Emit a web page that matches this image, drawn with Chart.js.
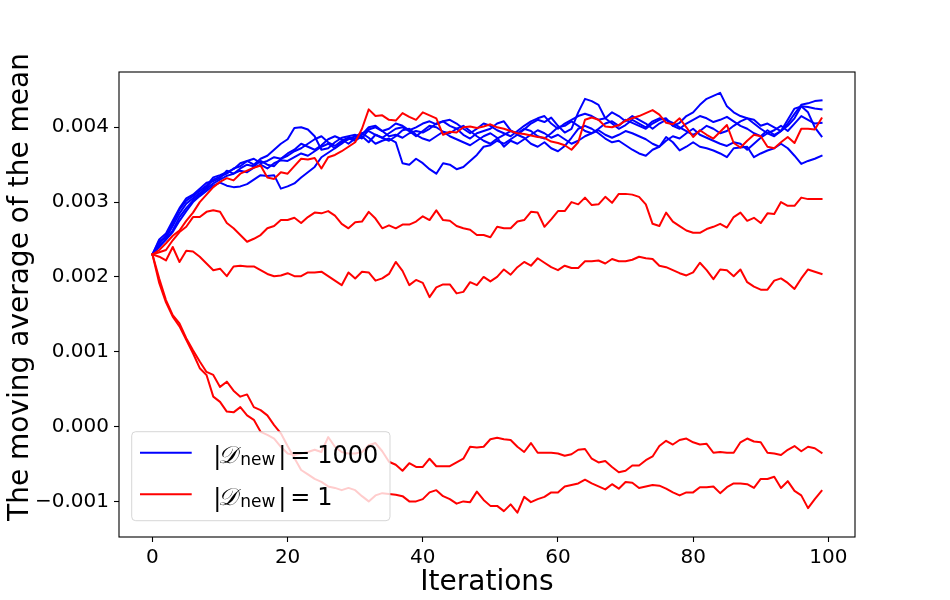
<!DOCTYPE html>
<html>
<head>
<meta charset="utf-8">
<script src="https://cdn.jsdelivr.net/npm/chart.js@4.4.1/dist/chart.umd.min.js"></script>
<style>
  html, body { margin: 0; padding: 0; background: #fff; }
  #chart { display: block; }
</style>
</head>
<body>
<canvas id="chart" width="950" height="600"></canvas>
<script>
// Values, in units of 1e-3
const UNIT = 1e-3;
const iterations = Array.from({ length: 100 }, (_, i) => i);

// |D_new| = 1000 runs
const blue1 = [
  2.30, 2.45, 2.55, 2.72, 2.90, 3.02, 3.08, 3.15, 3.22, 3.33,
  3.36, 3.40, 3.44, 3.52, 3.55, 3.50, 3.58, 3.62, 3.70, 3.78,
  3.84, 3.99, 4.00, 3.97, 3.88, 3.70, 3.72, 3.80, 3.86, 3.88,
  3.90, 3.85, 3.97, 4.00, 3.95, 3.88, 3.90, 3.86, 3.92, 3.95,
  3.93, 3.98, 4.05, 4.08, 4.02, 3.98, 3.90, 3.85, 3.92, 3.95,
  3.98, 4.05, 4.08, 3.96, 3.90, 3.97, 4.05, 4.10, 4.07, 4.13,
  4.02, 3.93, 3.98, 4.20, 4.38, 4.35, 4.30, 4.12, 4.05, 3.98,
  4.03, 4.10, 4.05, 4.00, 4.08, 4.12, 4.10, 4.02, 3.98, 4.05,
  4.10, 4.15, 4.12, 4.07, 4.10, 4.14, 4.08, 4.02, 3.98, 3.92,
  3.88, 3.96, 3.90, 3.95, 4.02, 4.12, 4.28, 4.27, 4.25, 4.24
];
const blue2 = [
  2.30, 2.42, 2.50, 2.60, 2.75, 2.88, 3.00, 3.08, 3.15, 3.22,
  3.26, 3.22, 3.20, 3.21, 3.24, 3.30, 3.36, 3.35, 3.36, 3.18,
  3.21, 3.25, 3.33, 3.40, 3.47, 3.60, 3.66, 3.72, 3.78, 3.85,
  3.82, 3.88, 3.80, 3.90, 3.86, 3.82, 3.88, 3.96, 3.98, 3.90,
  3.85, 3.82, 3.88, 3.94, 3.92, 3.98, 4.02, 3.95, 3.88, 3.82,
  3.78, 3.85, 3.90, 3.95, 3.92, 3.98, 3.95, 3.88, 3.85, 3.92,
  4.00, 4.02, 4.08, 4.02, 3.95, 3.92, 3.98, 4.05, 4.08, 4.02,
  4.10, 4.06, 4.02, 3.98, 4.05, 4.10, 4.12, 4.02, 4.06, 4.15,
  4.20, 4.30, 4.38, 4.42, 4.46, 4.28, 4.20, 4.15, 4.12, 4.10,
  4.02, 4.05, 4.00, 3.95, 4.10, 4.25, 4.28, 4.20, 4.00, 3.88
];
const blue3 = [
  2.30, 2.48, 2.52, 2.68, 2.85, 2.98, 3.05, 3.12, 3.20, 3.30,
  3.34, 3.38, 3.45, 3.48, 3.55, 3.58, 3.52, 3.55, 3.60, 3.58,
  3.62, 3.68, 3.72, 3.78, 3.84, 3.88, 3.80, 3.75, 3.82, 3.86,
  3.85, 3.92, 3.86, 3.78, 3.82, 3.85, 3.80, 3.52, 3.50, 3.58,
  3.52, 3.44, 3.38, 3.52, 3.50, 3.44, 3.47, 3.55, 3.63, 3.74,
  3.76, 3.82, 3.78, 3.84, 3.90, 3.86, 3.78, 3.74, 3.80, 3.72,
  3.68, 3.75, 3.86, 3.98, 4.02, 3.98, 3.92, 3.85, 3.80, 3.82,
  3.76, 3.70, 3.65, 3.62, 3.70, 3.74, 3.82, 3.88, 3.85, 3.92,
  3.98, 3.90, 3.86, 3.82, 3.78, 3.75, 3.80, 3.78, 3.70, 3.78,
  3.86, 3.92, 3.88, 3.95, 4.05, 4.18, 4.30, 4.32, 4.35, 4.36
];
const blue4 = [
  2.30, 2.40, 2.50, 2.62, 2.80, 2.92, 3.02, 3.10, 3.18, 3.25,
  3.30, 3.35, 3.38, 3.42, 3.40, 3.46, 3.50, 3.45, 3.52, 3.56,
  3.55, 3.60, 3.65, 3.62, 3.68, 3.74, 3.78, 3.72, 3.80, 3.84,
  3.88, 3.92, 3.95, 3.90, 3.86, 3.92, 3.98, 4.00, 3.95, 3.88,
  3.95, 4.02, 4.00, 3.94, 3.88, 3.84, 3.80, 3.76, 3.82, 3.88,
  3.92, 3.86, 3.74, 3.82, 3.78, 3.84, 3.90, 3.96, 3.92, 3.86,
  3.90, 3.84, 3.78, 3.82, 3.88, 3.92, 3.96, 3.90, 3.86, 3.90,
  3.95, 3.92, 3.88, 3.84, 3.78, 3.74, 3.87, 3.80, 3.69, 3.74,
  3.80, 3.74, 3.72, 3.69, 3.65, 3.60, 3.72, 3.73, 3.74, 3.60,
  3.65, 3.69, 3.72, 3.78, 3.72, 3.62, 3.51, 3.55, 3.58, 3.62
];
const blue5 = [
  2.30, 2.50, 2.58, 2.75, 2.92, 3.05, 3.10, 3.18, 3.26, 3.28,
  3.32, 3.42, 3.38, 3.45, 3.50, 3.48, 3.55, 3.50, 3.48, 3.58,
  3.65, 3.70, 3.78, 3.74, 3.70, 3.76, 3.84, 3.88, 3.84, 3.78,
  3.85, 3.90, 4.00, 4.02, 3.95, 3.98, 4.05, 4.02, 3.96, 4.00,
  4.05, 4.08, 4.04, 4.08, 4.10, 4.05, 3.98, 3.92, 3.98, 4.05,
  4.02, 3.96, 3.92, 3.88, 3.95, 4.02, 4.08, 4.12, 4.15, 4.05,
  3.98, 4.05, 4.10, 4.15, 4.18, 4.15, 4.10, 4.12, 4.20, 4.15,
  4.08, 4.15, 4.10, 4.05, 3.98, 4.05, 4.10, 4.06, 4.00, 3.95,
  3.90, 3.95, 4.02, 3.98, 3.92, 3.95, 4.02, 4.08, 4.12, 4.05,
  3.98, 3.92, 3.96, 4.02, 3.95, 4.05, 4.15, 4.10, 4.05, 4.06
];

// |D_new| = 1 runs
const red1 = [
  2.30, 2.36, 2.45, 2.55, 2.62, 2.75, 2.86, 3.00, 3.10, 3.20,
  3.27, 3.32, 3.29, 3.38, 3.42, 3.46, 3.49, 3.33, 3.31, 3.40,
  3.38, 3.48, 3.58, 3.57, 3.59, 3.45, 3.60, 3.63, 3.68, 3.74,
  3.80, 3.98, 4.24, 4.15, 4.16, 4.10, 4.09, 4.19, 4.14, 4.10,
  4.20, 4.16, 4.12, 3.90, 3.94, 3.93, 4.00, 4.01, 3.99, 4.01,
  4.04, 4.00, 3.98, 3.95, 3.92, 3.91, 3.89, 3.87, 3.86, 3.81,
  3.79, 3.76, 3.70, 3.80, 4.10, 4.13, 4.10, 4.01, 4.00, 4.03,
  4.09, 4.12, 4.15, 4.19, 4.23, 4.17, 4.06, 4.04, 4.12, 4.00,
  3.87, 3.96, 3.90, 3.85, 3.94, 4.03, 3.79, 3.73, 3.82, 3.90,
  3.88, 3.74, 3.72, 3.80, 3.87, 3.79, 3.98, 3.98, 3.97, 4.12
];
const red2 = [
  2.30, 2.33, 2.36, 2.49, 2.60, 2.67, 2.80, 2.80, 2.87, 2.89,
  2.87, 2.72, 2.65, 2.56, 2.47, 2.51, 2.56, 2.65, 2.68, 2.76,
  2.76, 2.79, 2.72, 2.80, 2.86, 2.85, 2.88, 2.82, 2.71, 2.65,
  2.73, 2.74, 2.87, 2.78, 2.65, 2.69, 2.65, 2.70, 2.70, 2.74,
  2.81, 2.76, 2.89, 2.76, 2.75, 2.68, 2.65, 2.63, 2.56, 2.56,
  2.53, 2.67, 2.65, 2.65, 2.74, 2.76, 2.87, 2.86, 2.67, 2.77,
  2.88, 2.88, 3.00, 2.97, 3.06, 2.96, 2.97, 3.07, 2.99, 3.11,
  3.11, 3.10, 3.07, 2.97, 2.71, 2.68, 2.86, 2.74, 2.68, 2.62,
  2.59, 2.59, 2.64, 2.67, 2.71, 2.66, 2.80, 2.86, 2.75, 2.79,
  2.72, 2.85, 2.84, 3.00, 2.95, 2.95, 3.06, 3.04, 3.04, 3.04
];
const red3 = [
  2.30, 2.27, 2.22, 2.40, 2.20, 2.35, 2.34, 2.27, 2.18, 2.09,
  2.11, 2.01, 2.14, 2.15, 2.14, 2.14, 2.09, 2.04, 2.01, 2.02,
  2.05, 2.01, 2.01, 2.06, 2.06, 2.07, 2.01, 1.95, 1.89, 2.06,
  1.98, 2.07, 2.06, 1.95, 1.98, 2.04, 2.20, 2.08, 1.89, 1.96,
  1.92, 1.73, 1.86, 1.90, 1.90, 1.78, 1.80, 1.93, 1.89, 2.00,
  1.94, 2.00, 2.10, 2.03, 2.13, 2.20, 2.15, 2.25, 2.19, 2.13,
  2.09, 2.15, 2.12, 2.12, 2.21, 2.21, 2.22, 2.18, 2.24, 2.21,
  2.21, 2.23, 2.27, 2.25, 2.24, 2.15, 2.13, 2.09, 2.05, 2.02,
  2.06, 2.19, 2.09, 1.97, 2.10, 2.09, 2.01, 2.10, 1.93, 1.87,
  1.83, 1.83, 1.95, 1.98, 1.92, 1.84, 1.98, 2.10, 2.07, 2.04
];
const red4 = [
  2.30, 1.98, 1.69, 1.49, 1.38, 1.18, 1.02, 0.87, 0.73, 0.69,
  0.53, 0.60, 0.48, 0.40, 0.43, 0.26, 0.22, 0.15, 0.02, -0.09,
  -0.26, -0.42, -0.58, -0.64, -0.70, -0.74, -0.80, -0.82, -0.85, -0.82,
  -0.85, -0.93, -1.00, -0.92, -0.89, -0.90, -0.91, -0.93, -1.00, -1.00,
  -0.97, -0.88, -0.85, -0.93, -0.97, -1.03, -1.00, -1.01, -0.87, -0.98,
  -1.06, -1.06, -1.13, -1.04, -1.15, -0.94, -1.01, -0.97, -0.94, -0.88,
  -0.88, -0.80, -0.78, -0.76, -0.71, -0.76, -0.80, -0.84, -0.77, -0.83,
  -0.74, -0.75, -0.82, -0.80, -0.78, -0.79, -0.83, -0.88, -0.92, -0.88,
  -0.88, -0.81, -0.81, -0.80, -0.89, -0.81, -0.76, -0.76, -0.77, -0.82,
  -0.70, -0.70, -0.67, -0.82, -0.73, -0.86, -0.92, -1.09, -0.97, -0.86
];
const red5 = [
  2.30, 1.92, 1.66, 1.47, 1.34, 1.16, 0.98, 0.78, 0.69, 0.40,
  0.33, 0.20, 0.19, 0.26, 0.15, 0.09, -0.07, -0.11, -0.16, -0.27,
  -0.36, -0.38, -0.36, -0.34, -0.31, -0.34, -0.14, -0.27, -0.34, -0.36,
  -0.36, -0.34, -0.25, -0.22, -0.33, -0.47, -0.51, -0.59, -0.49, -0.54,
  -0.54, -0.43, -0.53, -0.53, -0.53, -0.48, -0.43, -0.27, -0.28, -0.27,
  -0.17, -0.15, -0.17, -0.18, -0.27, -0.34, -0.22, -0.35, -0.35, -0.35,
  -0.36, -0.39, -0.37, -0.31, -0.30, -0.43, -0.48, -0.46, -0.54, -0.61,
  -0.59, -0.52, -0.52, -0.45, -0.40, -0.26, -0.19, -0.24, -0.18, -0.16,
  -0.21, -0.24, -0.23, -0.35, -0.34, -0.35, -0.35, -0.21, -0.16, -0.20,
  -0.21, -0.35, -0.36, -0.38, -0.31, -0.26, -0.33, -0.27, -0.29, -0.35
];

const xTicks = [0, 20, 40, 60, 80, 100];
const yTicks = [-0.001, 0, 0.001, 0.002, 0.003, 0.004];
const legendSizes = ['1000', '1'];

const BLUE = '#0000ff';
const RED = '#ff0000';

const toPoints = vals => vals.map((v, i) => ({ x: iterations[i], y: v * UNIT }));

const makeSet = (vals, color, order) => ({
    data: toPoints(vals),
    borderColor: color,
    backgroundColor: color,
    borderWidth: 2,
    pointRadius: 0,
    tension: 0,
    borderJoinStyle: 'round',
    borderCapStyle: 'square',
    order: order
});

const datasets = [
    ...[red1, red2, red3, red4, red5].map(v => makeSet(v, RED, 0)),
    ...[blue1, blue2, blue3, blue4, blue5].map(v => makeSet(v, BLUE, 1))
];

const fmtTick = v => {
    const s = Math.abs(v).toFixed(3);
    return v < -1e-9 ? '\u2212' + s : s;
};

// frame, axis titles and the mathtext legend
const decorations = {
    id: 'decorations',
    afterDraw(chart) {
        const { ctx, chartArea: a } = chart;
        ctx.save();

        ctx.strokeStyle = '#000';
        ctx.lineWidth = 1.1;
        ctx.strokeRect(a.left, a.top, a.right - a.left, a.bottom - a.top);

        ctx.fillStyle = '#000';
        ctx.font = '28px "DejaVu Sans"';
        ctx.textAlign = 'center';
        ctx.textBaseline = 'alphabetic';
        ctx.fillText('Iterations', (a.left + a.right) / 2, a.bottom + 53);

        ctx.save();
        ctx.translate(21, a.top + 215);
        ctx.rotate(-Math.PI / 2);
        ctx.textBaseline = 'middle';
        ctx.fillText('The moving average of the mean', 0, 0);
        ctx.restore();

        // legend box
        const bx = a.left + 12.7, by = a.bottom - 105.3, bw = 258.3, bh = 89, r = 4;
        ctx.beginPath();
        ctx.moveTo(bx + r, by);
        ctx.arcTo(bx + bw, by, bx + bw, by + bh, r);
        ctx.arcTo(bx + bw, by + bh, bx, by + bh, r);
        ctx.arcTo(bx, by + bh, bx, by, r);
        ctx.arcTo(bx, by, bx + bw, by, r);
        ctx.closePath();
        ctx.fillStyle = 'rgba(255,255,255,0.8)';
        ctx.fill();
        ctx.strokeStyle = 'rgba(204,204,204,0.8)';
        ctx.lineWidth = 1;
        ctx.stroke();

        const entries = [[BLUE, legendSizes[0], 21], [RED, legendSizes[1], 62.6]];
        entries.forEach(([color, size, dy]) => {
            const ly = by + dy;
            ctx.beginPath();
            ctx.moveTo(bx + 8.3, ly);
            ctx.lineTo(bx + 60, ly);
            ctx.strokeStyle = color;
            ctx.lineWidth = 2;
            ctx.stroke();

            const base = ly + 10.6;
            const tx = bx + 81.6;
            ctx.fillStyle = '#000';
            ctx.textAlign = 'left';
            ctx.textBaseline = 'alphabetic';
            ctx.font = '24px "DejaVu Sans"';
            ctx.fillText('|', tx, base + 1);
            ctx.font = 'italic 24px "DejaVu Serif", "DejaVu Sans", serif';
            ctx.fillText('\u{1D49F}', tx + 5, base);
            ctx.font = '17px "DejaVu Sans"';
            ctx.fillText('new', tx + 27, base + 2);
            ctx.font = '24px "DejaVu Sans"';
            ctx.fillText('|', tx + 65, base + 1);
            ctx.fillText('=', tx + 77, base);
            ctx.fillText(size, tx + 104, base);
        });

        ctx.restore();
    }
};

new Chart(document.getElementById('chart'), {
    type: 'line',
    data: { datasets },
    options: {
        responsive: false,
        animation: false,
        devicePixelRatio: 1,
        layout: { padding: { top: 72, right: 95, left: 0, bottom: 0 } },
        plugins: { legend: { display: false }, tooltip: { enabled: false } },
        scales: {
            x: {
                type: 'linear',
                min: -4.95,
                max: 103.95,
                afterBuildTicks: s => { s.ticks = xTicks.map(v => ({ value: v })); },
                afterFit: s => { s.height = 63; },
                border: { display: false },
                grid: { drawOnChartArea: false, tickLength: 5, tickColor: '#000', tickWidth: 1.1 },
                ticks: {
                    color: '#000',
                    padding: 4,
                    maxRotation: 0,
                    font: { family: 'DejaVu Sans', size: 20 },
                    callback: v => String(v)
                }
            },
            y: {
                type: 'linear',
                min: -0.001476,
                max: 0.004739,
                afterBuildTicks: s => { s.ticks = yTicks.map(v => ({ value: v })); },
                afterFit: s => { s.width = 119; },
                border: { display: false },
                grid: { drawOnChartArea: false, tickLength: 5, tickColor: '#000', tickWidth: 1.1 },
                ticks: {
                    color: '#000',
                    padding: 5,
                    font: { family: 'DejaVu Sans', size: 20 },
                    callback: fmtTick
                }
            }
        }
    },
    plugins: [decorations]
});
</script>
</body>
</html>
